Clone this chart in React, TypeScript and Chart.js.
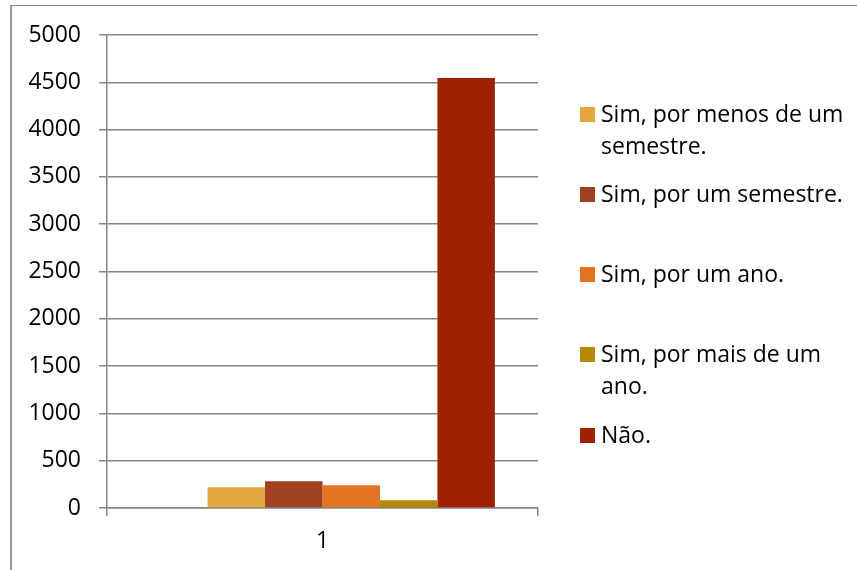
import React, { useEffect, useRef } from "react";
import { Chart, registerables } from "chart.js";

Chart.register(...registerables);

const categories = ["1"];
const seriesLabels = [
  "Sim, por menos de um semestre.",
  "Sim, por um semestre.",
  "Sim, por um ano.",
  "Sim, por mais de um ano.",
  "Não.",
];
const seriesValues = [219, 282, 240, 81, 4545];
const seriesColors = ["#E3A740", "#A24022", "#E27422", "#B68900", "#9E2200"];
const yTicks = { min: 0, max: 5000, step: 500 };

const FONT = "'Open Sans', sans-serif";
const GRID = "#858585";

export default function App() {
  const canvasRef = useRef<HTMLCanvasElement | null>(null);

  useEffect(() => {
    if (!canvasRef.current) return;
    const datasets: any[] = [
      // empty first series slot (blank column in source)
      { label: "", data: [null], backgroundColor: "transparent" },
      ...seriesLabels.map((label, i) => ({
        label,
        data: [seriesValues[i]],
        backgroundColor: seriesColors[i],
        borderWidth: 0,
      })),
    ];
    const chart = new Chart(canvasRef.current, {
      type: "bar",
      data: { labels: categories, datasets },
      options: {
        responsive: false,
        animation: false,
        events: [],
        layout: { padding: { left: 0, right: 319, top: 35, bottom: 0 } },
        datasets: { bar: { categoryPercentage: 0.8, barPercentage: 1 } },
        plugins: { legend: { display: false }, tooltip: { enabled: false } },
        scales: {
          x: {
            offset: true,
            grid: {
              offset: true,
              drawOnChartArea: false,
              drawTicks: true,
              tickLength: 8,
              color: GRID,
              lineWidth: 1.5,
            },
            border: { display: true, color: GRID, width: 1.5 },
            ticks: { color: "#000", font: { family: FONT, size: 23 }, padding: 12 },
            afterFit: (s: any) => {
              s.height = 62;
            },
          },
          y: {
            min: yTicks.min,
            max: yTicks.max,
            ticks: {
              stepSize: yTicks.step,
              color: "#000",
              font: { family: FONT, size: 23 },
              padding: 18,
              callback: (v: any) => String(v),
            },
            grid: { color: GRID, tickLength: 8, drawTicks: true, lineWidth: 1.5 },
            border: { display: true, color: GRID, width: 1.5 },
            afterFit: (s: any) => {
              s.width = 107;
            },
          },
        },
      },
    });
    return () => chart.destroy();
  }, []);

  const baseline0 = 121.7;
  const itemStep = 80.25;

  return (
    <div
      style={{
        position: "absolute",
        left: 0,
        top: 0,
        width: 857,
        height: 570,
        overflow: "hidden",
        background: "#fff",
      }}
    >
      <div
        style={{
          position: "absolute",
          left: 10,
          top: 5,
          width: 1000,
          height: 1000,
          borderTop: "1px solid #8a8a8a",
          borderLeft: "2px solid #9a9a9a",
        }}
      />
      <canvas
        ref={canvasRef}
        width={857}
        height={570}
        style={{ position: "absolute", left: 0, top: 0 }}
      />
      {seriesLabels.map((label, i) => {
        const baseline = baseline0 + i * itemStep;
        return (
          <React.Fragment key={label}>
            <div
              style={{
                position: "absolute",
                left: 580,
                top: baseline - 15,
                width: 15,
                height: 15,
                background: seriesColors[i],
              }}
            />
            <div
              style={{
                position: "absolute",
                left: 601,
                top: baseline - 25,
                width: 255,
                fontFamily: FONT,
                fontSize: 23,
                lineHeight: "32px",
                color: "#000",
              }}
            >
              {label}
            </div>
          </React.Fragment>
        );
      })}
    </div>
  );
}
